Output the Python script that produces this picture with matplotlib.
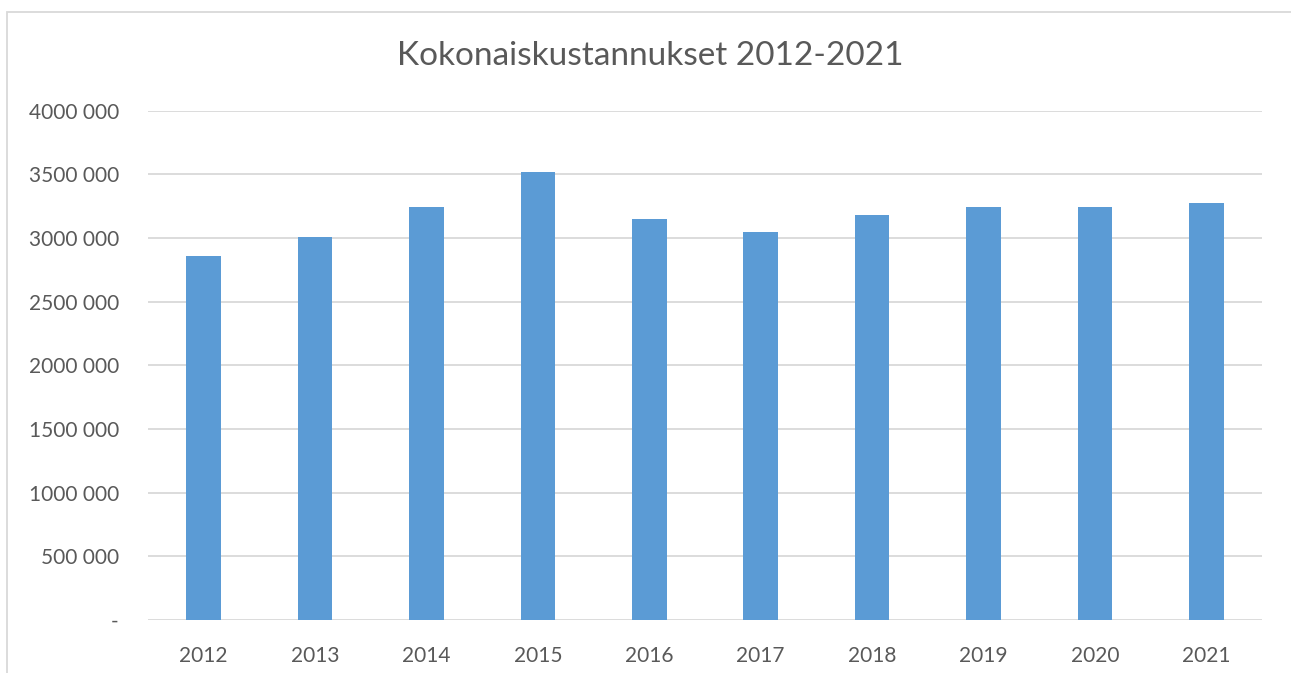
import matplotlib.pyplot as plt
from matplotlib.patches import Rectangle
from matplotlib.ticker import FuncFormatter

years = ['2012', '2013', '2014', '2015', '2016', '2017', '2018', '2019', '2020', '2021']
costs = [2859000, 3006000, 3244000, 3519000, 3152000, 3045000, 3183000, 3244000, 3244000, 3275000]
y_ticks = [0, 500000, 1000000, 1500000, 2000000, 2500000, 3000000, 3500000, 4000000]

W, H = 1291, 673
fig = plt.figure(figsize=(W / 100, H / 100), dpi=100)
plt.rcParams['font.family'] = ['Lato', 'DejaVu Sans']

ax = fig.add_axes([148 / W, 1 - 620 / H, (1262 - 148) / W, (620 - 110.7) / H])
x = range(len(years))
ax.bar(x, costs, width=0.31, color='#5B9BD5', zorder=3)
ax.set_xlim(-0.5, len(years) - 0.5)
ax.set_ylim(0, 4000000)
ax.set_yticks(y_ticks)
ax.set_xticks(list(x))
ax.set_xticklabels(years)


def fmt(v, pos):
    if v == 0:
        return '-'
    s = f'{int(v):,}'.replace(',', ' ')
    # Excel style: thousands group only on the last block
    parts = s.split(' ')
    return ''.join(parts[:-1]) + ' ' + parts[-1]


ax.yaxis.set_major_formatter(FuncFormatter(fmt))
ax.grid(axis='y', color='#D9D9D9', linewidth=1.3, zorder=0)
for s in ax.spines.values():
    s.set_visible(False)
ax.tick_params(axis='both', length=0, labelsize=15, colors='#595959')
ax.tick_params(axis='y', pad=21)
ax.tick_params(axis='x', pad=19)

fig.text(650 / W, 1 - 56 / H, 'Kokonaiskustannukset 2012-2021', ha='center', va='center',
         fontsize=24, color='#595959')

fig.patches.append(Rectangle((7 / W, -0.05), 1.1, 1 - 12 / H + 0.05, transform=fig.transFigure,
                             fill=False, edgecolor='#D9D9D9', linewidth=1.3))

fig.savefig('out.png', dpi=100)
